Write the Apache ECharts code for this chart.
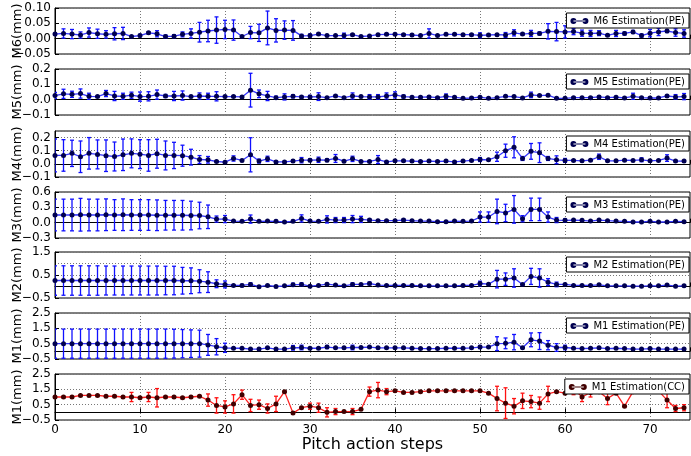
<!DOCTYPE html>
<html style="height: 100%">
<head>
<meta charset="utf-8">
</head>
<body style="height: 100%; margin: 0; background: #fff">
	<div id="container" style="width: 691px; height: 456px"></div>
	<script type="text/javascript" src="https://cdn.jsdelivr.net/npm/echarts@6/dist/echarts.min.js"></script>
	<script type="text/javascript">
		// estimated per pitch action step (0..74)
		var m6 = [0.015,0.017,0.015,0.012,0.020,0.016,0.014,0.016,0.017,0.007,
			0.010,0.019,0.016,0.007,0.008,0.014,0.017,0.021,0.025,0.028,
			0.030,0.028,0.007,0.020,0.019,0.035,0.027,0.028,0.027,0.009,
			0.010,0.015,0.010,0.010,0.010,0.013,0.007,0.009,0.013,0.014,
			0.014,0.013,0.012,0.010,0.017,0.010,0.014,0.014,0.013,0.013,
			0.011,0.012,0.013,0.012,0.019,0.015,0.017,0.017,0.024,0.023,
			0.022,0.023,0.018,0.017,0.018,0.011,0.017,0.017,0.022,0.010,
			0.018,0.022,0.025,0.020,0.017];
		var m6Err = [0.005,0.015,0.015,0.010,0.015,0.015,0.012,0.020,0.020,0,
			0.004,0.004,0.010,0.005,0.005,0.008,0.015,0.032,0.035,0.043,
			0.030,0.033,0,0.020,0.028,0.055,0.038,0.030,0.032,0.005,
			0.005,0.003,0,0,0.008,0.003,0,0,0.003,0.003,
			0.003,0.003,0.003,0,0.015,0,0.003,0.003,0.003,0.003,
			0.008,0.003,0.003,0.008,0.010,0.003,0.010,0.005,0.025,0.030,
			0.020,0.010,0.010,0.010,0.008,0.003,0.010,0.005,0.005,0.005,
			0.012,0.012,0.005,0.012,0.012];

		var m5 = [0.027,0.038,0.035,0.040,0.022,0.020,0.040,0.024,0.022,0.029,
			0.020,0.022,0.033,0.024,0.024,0.027,0.020,0.024,0.022,0.022,
			0.020,0.020,0.018,0.062,0.038,0.024,0.013,0.018,0.022,0.018,
			0.018,0.020,0.013,0.024,0.013,0.024,0.020,0.018,0.018,0.024,
			0.031,0.020,0.016,0.016,0.018,0.013,0.022,0.016,0.009,0.011,
			0.016,0.009,0.013,0.022,0.020,0.011,0.031,0.027,0.029,0.009,
			0.009,0.013,0.013,0.013,0.018,0.013,0.016,0.011,0.022,0.013,
			0.011,0.011,0.024,0.018,0.020];
		var m5Err = [0.02,0.03,0.02,0.03,0.02,0.005,0.02,0.03,0.02,0.02,
			0.03,0.03,0.03,0.01,0.03,0.03,0.005,0.02,0.02,0.03,
			0.005,0.005,0.005,0.11,0.025,0.03,0.01,0.02,0.01,0.005,
			0.01,0.025,0.005,0.005,0.005,0.02,0.005,0.015,0.015,0.02,
			0.02,0.01,0.005,0.005,0.005,0.005,0.015,0.005,0.005,0.005,
			0.005,0.005,0.005,0.005,0.005,0.005,0.018,0.005,0.005,0.005,
			0.005,0.005,0.005,0.005,0.005,0.005,0.005,0.005,0.02,0.005,
			0.005,0.005,0.005,0.015,0.02];

		var m4 = [0.064,0.064,0.080,0.054,0.080,0.072,0.062,0.056,0.069,0.080,
			0.074,0.064,0.077,0.064,0.064,0.062,0.051,0.033,0.031,0.018,
			0.013,0.041,0.026,0.069,0.021,0.038,0.015,0.015,0.021,0.028,
			0.028,0.031,0.028,0.041,0.020,0.038,0.018,0.018,0.033,0.015,
			0.023,0.023,0.021,0.018,0.021,0.018,0.021,0.015,0.021,0.026,
			0.033,0.031,0.054,0.100,0.126,0.041,0.095,0.085,0.041,0.031,
			0.026,0.026,0.023,0.028,0.054,0.023,0.023,0.028,0.026,0.031,
			0.023,0.026,0.044,0.021,0.021];
		var m4Err = [0.125,0.12,0.10,0.12,0.12,0.11,0.12,0.11,0.12,0.11,
			0.11,0.12,0.11,0.11,0.10,0.08,0.06,0.03,0.025,0.005,
			0.005,0.02,0.005,0.13,0.015,0.02,0.005,0.005,0.01,0.02,
			0.01,0.02,0.01,0.03,0.005,0.02,0.005,0.005,0.03,0.005,
			0.005,0.005,0.005,0.005,0.005,0.005,0.005,0.005,0.005,0.005,
			0.015,0.005,0.035,0.05,0.08,0.015,0.06,0.075,0.015,0.03,
			0.015,0.005,0.005,0.005,0.02,0.005,0.005,0.005,0.005,0.015,
			0.005,0.005,0.025,0.005,0.005];

		var m3 = [0.15,0.15,0.15,0.155,0.15,0.15,0.155,0.15,0.155,0.15,
			0.15,0.15,0.145,0.145,0.145,0.145,0.14,0.14,0.115,0.07,
			0.07,0.032,0.026,0.07,0.026,0.032,0.026,0.013,0.026,0.083,
			0.032,0.026,0.064,0.051,0.051,0.07,0.064,0.051,0.038,0.038,
			0.038,0.051,0.038,0.032,0.032,0.019,0.019,0.032,0.026,0.032,
			0.11,0.11,0.22,0.19,0.26,0.077,0.26,0.26,0.11,0.051,
			0.045,0.051,0.045,0.032,0.051,0.038,0.032,0.026,0.013,0.013,
			0.026,0.013,0.013,0.026,0.019];
		var m3Err = [0.31,0.31,0.31,0.32,0.31,0.31,0.31,0.30,0.31,0.30,
			0.30,0.30,0.30,0.29,0.29,0.29,0.28,0.26,0.23,0.06,
			0.07,0.005,0.005,0.08,0.005,0.005,0.02,0.005,0.02,0.07,
			0.02,0.005,0.07,0.05,0.05,0.07,0.06,0.02,0.005,0.005,
			0.005,0.02,0.02,0.005,0.005,0.005,0.005,0.005,0.005,0.005,
			0.1,0.1,0.24,0.17,0.27,0.06,0.22,0.22,0.1,0.05,
			0.03,0.005,0.005,0.005,0.005,0.005,0.005,0.005,0.005,0.005,
			0.005,0.005,0.005,0.005,0.005];

		var m2 = [0.26,0.26,0.26,0.26,0.26,0.26,0.26,0.26,0.26,0.26,
			0.26,0.26,0.26,0.26,0.26,0.25,0.25,0.23,0.19,0.12,
			0.09,0.045,0.045,0.09,-0.01,0.045,0.0,0.03,0.075,0.09,
			0.015,0.045,0.1,0.06,0.03,0.09,0.09,0.13,0.06,0.045,
			0.045,0.045,0.045,0.03,0.03,0.03,0.03,0.03,0.045,0.045,
			0.13,0.1,0.32,0.32,0.37,0.09,0.44,0.37,0.19,0.09,
			0.09,0.045,0.045,0.045,0.075,0.03,0.03,0.03,0.015,0.015,
			0.03,0.03,0.06,0.015,0.03];
		var m2Err = [0.64,0.64,0.64,0.64,0.64,0.64,0.63,0.63,0.63,0.63,
			0.63,0.63,0.63,0.62,0.62,0.58,0.56,0.5,0.45,0.17,
			0.15,0.01,0.05,0.07,0.01,0.01,0.01,0.01,0.07,0.07,
			0.01,0.01,0.04,0.01,0.01,0.07,0.01,0.06,0.01,0.01,
			0.01,0.01,0.01,0.01,0.01,0.01,0.01,0.01,0.01,0.01,
			0.1,0.01,0.38,0.27,0.4,0.01,0.35,0.4,0.15,0.1,
			0.04,0.01,0.01,0.01,0.05,0.01,0.01,0.01,0.01,0.01,
			0.01,0.01,0.01,0.01,0.01];

		var m1pe = [0.5,0.5,0.5,0.5,0.5,0.5,0.5,0.5,0.5,0.5,
			0.5,0.5,0.5,0.5,0.5,0.5,0.5,0.5,0.42,0.3,
			0.23,0.2,0.2,0.15,0.15,0.23,0.15,0.15,0.23,0.25,
			0.2,0.2,0.28,0.23,0.23,0.25,0.25,0.28,0.23,0.23,
			0.23,0.23,0.2,0.18,0.18,0.18,0.2,0.2,0.2,0.23,
			0.28,0.28,0.5,0.52,0.6,0.23,0.75,0.67,0.4,0.25,
			0.25,0.2,0.18,0.2,0.23,0.18,0.2,0.18,0.15,0.15,
			0.18,0.15,0.15,0.15,0.15];
		var m1peErr = [0.95,0.95,0.95,0.95,0.95,0.95,0.95,0.95,0.95,0.95,
			0.95,0.95,0.95,0.95,0.94,0.92,0.9,0.88,0.68,0.53,
			0.3,0.02,0.02,0.02,0.02,0.02,0.02,0.02,0.15,0.15,
			0.02,0.02,0.1,0.02,0.02,0.15,0.02,0.02,0.02,0.02,
			0.02,0.02,0.02,0.02,0.02,0.02,0.02,0.02,0.02,0.02,
			0.1,0.02,0.45,0.35,0.5,0.02,0.45,0.55,0.3,0.25,
			0.15,0.02,0.02,0.02,0.02,0.02,0.02,0.02,0.02,0.02,
			0.02,0.02,0.02,0.02,0.02];

		var m1cc = [1.0,1.0,1.0,1.1,1.1,1.1,1.05,1.05,1.0,1.0,
			0.95,1.0,0.95,1.0,1.0,0.95,1.0,1.05,0.8,0.45,
			0.35,0.55,1.15,0.45,0.5,0.25,0.55,1.35,-0.05,0.3,
			0.4,0.3,0.0,0.05,0.05,0.05,0.2,1.35,1.45,1.35,
			1.4,1.3,1.3,1.35,1.4,1.4,1.4,1.4,1.4,1.4,
			1.4,1.25,0.9,0.6,0.4,0.75,0.7,0.6,1.2,1.35,
			1.25,1.55,1.0,1.3,1.35,0.9,1.25,0.4,1.35,1.4,
			1.45,1.4,0.8,0.25,0.3];
		var m1ccErr = [0.05,0.05,0.05,0.05,0.05,0.05,0.05,0.05,0.05,0.3,
			0.05,0.3,0.6,0.05,0.05,0.05,0.05,0.05,0.4,0.5,
			0.4,0.6,0.3,0.4,0.3,0.3,0.5,0.05,0.05,0.05,
			0.2,0.3,0.3,0.2,0.05,0.2,0.05,0.3,0.5,0.2,
			0.05,0.05,0.05,0.05,0.05,0.05,0.05,0.05,0.05,0.05,
			0.05,0.05,0.8,1.0,0.5,0.5,0.4,0.4,0.5,0.05,
			0.05,0.4,0.3,0.3,0.05,0.4,0.05,0.05,0.05,0.05,
			0.05,0.05,0.5,0.2,0.2];

		var panelNames = ['M6(mm)', 'M5(mm)', 'M4(mm)', 'M3(mm)', 'M2(mm)', 'M1(mm)', 'M1(mm)'];
		var legendNames = ['M6 Estimation(PE)', 'M5 Estimation(PE)', 'M4 Estimation(PE)', 'M3 Estimation(PE)',
			'M2 Estimation(PE)', 'M1 Estimation(PE)', 'M1 Estimation(CC)'];
		var values = [m6, m5, m4, m3, m2, m1pe, m1cc];
		var errors = [m6Err, m5Err, m4Err, m3Err, m2Err, m1peErr, m1ccErr];
		var yMin = [-0.05, -0.1, -0.1, -0.3, -0.5, -0.5, -0.5];
		var yMax = [0.10, 0.2, 0.25, 0.6, 1.5, 2.5, 2.5];
		var yStep = [0.05, 0.1, 0.1, 0.3, 0.5, 1, 1];
		var yDigits = [2, 1, 1, 1, 1, 1, 1];

		var tops = [8, 69, 131, 192, 252, 313, 374];
		var font = 'DejaVu Sans';
		var legendIcon = 'path://M0,3a3,3 0 1,0 6,0a3,3 0 1,0 -6,0z M12,3a3,3 0 1,0 6,0a3,3 0 1,0 -6,0z M3,2.4h12v1.2h-12z';

		function fmt(v, d) {
			var s = v.toFixed(d);
			return '{t|' + (s.charAt(0) === '-' ? '\u2212' + s.slice(1) : s) + '}';
		}

		var dom = document.getElementById('container');
		var myChart = echarts.init(dom, null, {renderer: 'canvas'});

		var grids = [], xAxes = [], yAxes = [], series = [], legends = [];
		for (var i = 0; i < 7; i++) {
			var red = (i === 6);
			var lineColor = red ? '#ff2020' : '#3535ff';
			var dotColor = red ? '#400000' : '#000050';
			var last = (i === 6);
			grids.push({left: 55, right: 1, top: tops[i], height: 46, outerBoundsMode: 'none',
				show: true, borderColor: '#000', borderWidth: 1, backgroundColor: '#fff'});
			xAxes.push({
				type: 'value', gridIndex: i, min: 0, max: 74.7, interval: 10,
				axisLine: {show: true, lineStyle: {color: '#000'}},
				axisTick: {show: true, inside: true, length: 4, lineStyle: {color: '#000'}},
				axisLabel: {show: last, showMaxLabel: false, color: '#000', fontFamily: font, fontSize: 12, margin: 4},
				splitLine: {show: true, showMaxLine: false, lineStyle: {color: '#777', type: [1, 2], width: 1}},
				name: last ? 'Pitch action steps' : '', nameLocation: 'middle', nameGap: 17,
				nameTextStyle: {color: '#000', fontFamily: font, fontSize: 16}
			});
			(function (d) {
				yAxes.push({
					type: 'value', gridIndex: i, min: yMin[i], max: yMax[i], interval: yStep[i],
					axisLine: {show: true, lineStyle: {color: '#000'}},
					axisTick: {show: true, inside: true, length: 4, lineStyle: {color: '#000'}},
					axisLabel: {
						color: '#000', fontFamily: font, fontSize: 12, margin: 4,
						showMinLabel: true, showMaxLabel: i !== 2, hideOverlap: false,
						// short label boxes so the five M2 labels are not treated as overlapping
						rich: {t: {fontFamily: font, fontSize: 12, color: '#000', height: 8, lineHeight: 8}},
						formatter: function (v) { return fmt(v, d); }
					},
					splitLine: {show: true, lineStyle: {color: '#777', type: [1, 2], width: 1}},
					name: panelNames[i], nameLocation: 'middle', nameGap: 31, nameMoveOverlap: false,
					nameTextStyle: {color: '#000', fontFamily: font, fontSize: 13}
				});
			})(yDigits[i]);

			var vals = values[i], errs = errors[i];
			var errData = vals.map(function (v, k) { return [k, v - errs[k], v + errs[k]]; });
			series.push({
				type: 'custom', name: legendNames[i] + ' err', xAxisIndex: i, yAxisIndex: i, z: 2,
				clip: true, silent: true,
				data: errData,
				renderItem: (function (col) {
					return function (params, api) {
						var lo = api.coord([api.value(0), api.value(1)]);
						var hi = api.coord([api.value(0), api.value(2)]);
						var st = {stroke: col, lineWidth: 1.3};
						return {type: 'group', children: [
							{type: 'line', shape: {x1: lo[0], y1: lo[1], x2: hi[0], y2: hi[1]}, style: st},
							{type: 'line', shape: {x1: lo[0] - 2, y1: lo[1], x2: lo[0] + 2, y2: lo[1]}, style: st},
							{type: 'line', shape: {x1: hi[0] - 2, y1: hi[1], x2: hi[0] + 2, y2: hi[1]}, style: st}
						]};
					};
				})(red ? '#ff1010' : '#1010ff')
			});
			series.push({
				type: 'line', name: legendNames[i], xAxisIndex: i, yAxisIndex: i, z: 3,
				data: vals.map(function (v, k) { return [k, v]; }),
				symbol: 'circle', symbolSize: 5, showAllSymbol: true,
				lineStyle: {color: lineColor, width: 1.3},
				itemStyle: {color: dotColor, borderColor: dotColor, borderWidth: 0}
			});
			legends.push({
				data: [{name: legendNames[i], icon: legendIcon}],
				right: 2, top: tops[i] + 5, z: 10,
				backgroundColor: '#fff', borderColor: '#000', borderWidth: 1, borderRadius: 0,
				padding: [3, 4, 2, 4], itemWidth: 18, itemHeight: 6,
				textStyle: {color: '#000', fontFamily: font, fontSize: 10},
				selectedMode: false
			});
		}

		var option = {
			animation: false,
			backgroundColor: '#fff',
			textStyle: {fontFamily: font},
			grid: grids,
			xAxis: xAxes,
			yAxis: yAxes,
			legend: legends,
			series: series
		};
		myChart.setOption(option, true);
	</script>
</body>
</html>
